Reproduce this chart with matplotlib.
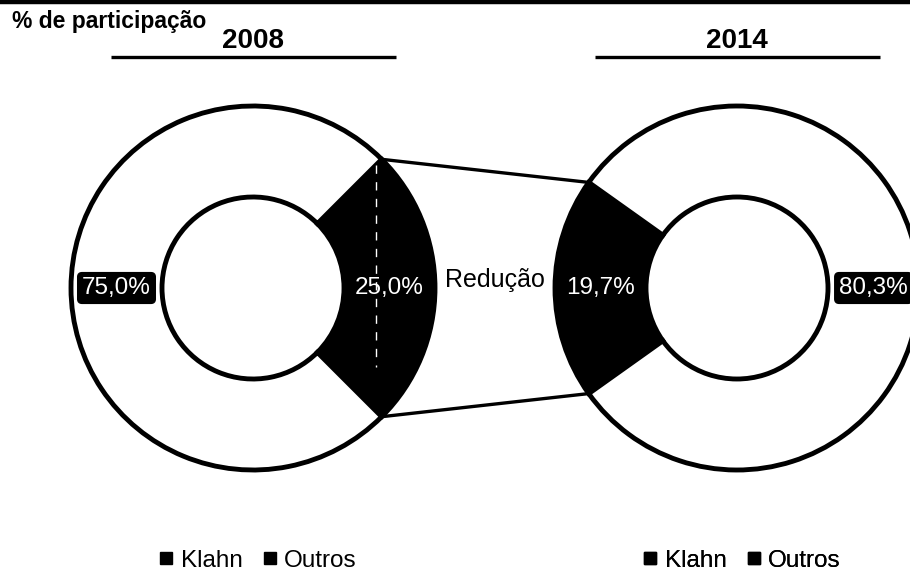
import numpy as np
import matplotlib
matplotlib.use("Agg")
import matplotlib.pyplot as plt
from matplotlib.lines import Line2D

plt.rcParams['font.family'] = ['Liberation Sans', 'DejaVu Sans']

# ---- data ----
years = ["2008", "2014"]
categories = ["Klahn", "Outros"]
klahn = [25.0, 19.7]
outros = [75.0, 80.3]
klahn_direction = [0, 180]          # angle where the Klahn slice is centred
title = "% de participação"
middle_label = "Redução"

# ---- layout (pixels, y up) ----
W, H = 910, 574
fig = plt.figure(figsize=(W / 100, H / 100), dpi=100)
ax = fig.add_axes([0, 0, 1, 1])
centers = [(253, 286), (737, 286)]
R = 182
ring = 91


def fmt(p):
    return f"{p:.1f}%".replace(".", ",")


klahn_wedges = []
for i, year in enumerate(years):
    vals = [klahn[i], outros[i]]
    start = klahn_direction[i] - klahn[i] / 100 * 360 / 2
    wedges, texts, autotexts = ax.pie(
        vals, colors=["black", "white"], startangle=start, counterclock=True,
        radius=R, center=centers[i], autopct=fmt, pctdistance=0.75,
        wedgeprops=dict(width=ring, edgecolor="black", linewidth=3.5),
        textprops=dict(color="white", fontsize=17.5),
    )
    klahn_wedges.append(wedges[0])
    # Outros label gets a black rounded background
    autotexts[1].set_bbox(dict(boxstyle="round,pad=0.18", fc="black", ec="black"))
    # year heading + underline
    cx = centers[i][0]
    ax.text(cx, H - 48, year, ha="center", va="baseline", fontsize=20,
            fontweight="bold", color="black")
    ax.plot([cx - 142, cx + 143], [H - 57, H - 57], color="black", lw=2.4,
            solid_capstyle="butt")


def corner(w, theta):
    c = w.center
    return (c[0] + w.r * np.cos(np.radians(theta)),
            c[1] + w.r * np.sin(np.radians(theta)))


wl, wr = klahn_wedges
p_top_l = corner(wl, wl.theta2)
p_bot_l = corner(wl, wl.theta1)
p_top_r = corner(wr, wr.theta1)
p_bot_r = corner(wr, wr.theta2)
ax.plot([p_top_l[0], p_top_r[0]], [p_top_l[1], p_top_r[1]], color="black", lw=2.4)
ax.plot([p_bot_l[0], p_bot_r[0]], [p_bot_l[1], p_bot_r[1]], color="black", lw=2.4)
# faint white dashed chord inside the 2008 Klahn slice
ax.plot([p_top_l[0] - 6, p_bot_l[0] - 6], [p_top_l[1] - 6, p_bot_l[1] + 50],
        color="white", lw=1, ls=(0, (6, 6)))

ax.text((centers[0][0] + centers[1][0]) / 2, H - 280, middle_label,
        ha="center", va="center", fontsize=18, color="black")

# title and top rule
ax.text(12, H - 28, title, ha="left", va="baseline", fontsize=16.5,
        fontweight="bold", color="black")
ax.plot([0, W], [H - 2, H - 2], color="black", lw=3.2, solid_capstyle="butt")

ax.set_xlim(0, W)
ax.set_ylim(0, H)
ax.set_aspect("auto")
ax.axis("off")

# legends
handles = [Line2D([], [], marker="s", color="black", ls="none", markersize=9)
           for _ in categories]
for i in range(2):
    leg = ax.legend(handles, categories, loc="lower center", ncol=2,
                    bbox_to_anchor=((centers[i][0] + 5) / W, 2 / H),
                    bbox_transform=fig.transFigure, frameon=False,
                    fontsize=17.5, handlelength=0.6, handletextpad=0.3,
                    columnspacing=0.8, borderaxespad=0, borderpad=0)
    ax.add_artist(leg)

fig.savefig("out.png", dpi=100)
